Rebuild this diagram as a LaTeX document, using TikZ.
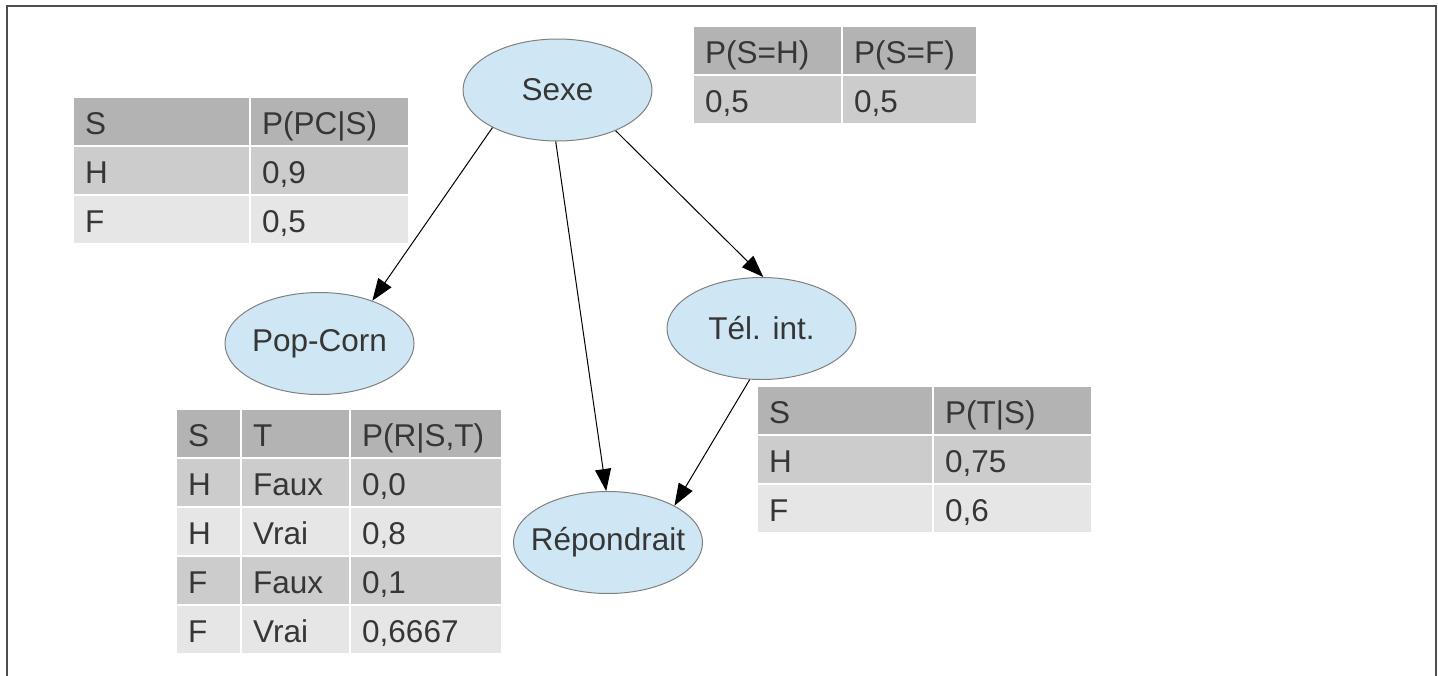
\documentclass[tikz,border=0pt]{standalone}
\usepackage{fontspec}
\setmainfont{Liberation Sans}
\usetikzlibrary{arrows.meta,shapes.geometric}
\definecolor{txt}{HTML}{363636}
\definecolor{hdr}{HTML}{B3B3B3}
\definecolor{rowd}{HTML}{CCCCCC}
\definecolor{rowl}{HTML}{E6E6E6}
\definecolor{ellfill}{HTML}{CFE7F5}
\definecolor{ellline}{HTML}{808080}
\definecolor{frame}{HTML}{4D4D4D}
\newcommand{\bigfont}{\fontsize{31.5}{36}\selectfont}
\tikzset{
  nodeell/.style={ellipse, draw=ellline, fill=ellfill, line width=1pt,
    minimum width=189pt, minimum height=102pt, inner sep=0pt},
  elltext/.style={text=txt, font=\bigfont, inner sep=0pt},
  cellbox/.style={draw=white, line width=1.5pt},
  celltext/.style={anchor=base west, text=txt, font=\bigfont, inner sep=0pt},
  arr/.style={-{Triangle[length=22pt,width=16pt]}, line width=1pt, black},
  framestyle/.style={draw=frame, line width=1.5pt}
}
\begin{document}
\begin{tikzpicture}[x=1pt,y=-1pt]
\useasboundingbox (0,0) rectangle (1438,675);
% frame
\draw[framestyle] (7,690) -- (7,6) -- (1436,6) -- (1436,690);

% ---- table P(S)
\path[cellbox,fill=hdr] (693,26) rectangle (842,75);
\path[cellbox,fill=hdr] (842,26) rectangle (977,75);
\path[cellbox,fill=rowd] (693,75) rectangle (842,124);
\path[cellbox,fill=rowd] (842,75) rectangle (977,124);
\node[celltext] (sxa) at (705,63) {P(S=H)};
\node[celltext] (sxb) at (854,63) {P(S=F)};
\node[celltext] (sxc) at (705,112) {0,5};
\node[celltext] (sxd) at (854,112) {0,5};

% ---- table P(PC|S)
\path[cellbox,fill=hdr] (73,97) rectangle (250,146);
\path[cellbox,fill=hdr] (250,97) rectangle (409,146);
\path[cellbox,fill=rowd] (73,146) rectangle (250,195);
\path[cellbox,fill=rowd] (250,146) rectangle (409,195);
\path[cellbox,fill=rowl] (73,195) rectangle (250,244);
\path[cellbox,fill=rowl] (250,195) rectangle (409,244);
\node[celltext] (pca) at (85,134) {S};
\node[celltext] (pcb) at (262,134) {P(PC|S)};
\node[celltext] (pcc) at (85,183) {H};
\node[celltext] (pcd) at (262,183) {0,9};
\node[celltext] (pce) at (85,232) {F};
\node[celltext] (pcf) at (262,232) {0,5};

% ---- table P(T|S)
\path[cellbox,fill=hdr] (757,386) rectangle (933,435);
\path[cellbox,fill=hdr] (933,386) rectangle (1092,435);
\path[cellbox,fill=rowd] (757,435) rectangle (933,484);
\path[cellbox,fill=rowd] (933,435) rectangle (1092,484);
\path[cellbox,fill=rowl] (757,484) rectangle (933,533);
\path[cellbox,fill=rowl] (933,484) rectangle (1092,533);
\node[celltext] (tsa) at (769,423) {S};
\node[celltext] (tsb) at (945,423) {P(T|S)};
\node[celltext] (tsc) at (769,472) {H};
\node[celltext] (tsd) at (945,472) {0,75};
\node[celltext] (tse) at (769,521) {F};
\node[celltext] (tsf) at (945,521) {0,6};

% ---- table P(R|S,T)
\foreach \ya/\yb/\c in {409/458/hdr,458/507/rowd,507/556/rowl,556/605/rowd,605/654/rowl}{
  \path[cellbox,fill=\c] (176,\ya) rectangle (241,\yb);
  \path[cellbox,fill=\c] (241,\ya) rectangle (350,\yb);
  \path[cellbox,fill=\c] (350,\ya) rectangle (502,\yb);
}
\node[celltext] (ra1) at (188,446) {S};
\node[celltext] (ra2) at (253,446) {T};
\node[celltext] (ra3) at (362,446) {P(R|S,T)};
\node[celltext] (rb1) at (188,495) {H};
\node[celltext] (rb2) at (253,495) {Faux};
\node[celltext] (rb3) at (362,495) {0,0};
\node[celltext] (rc1) at (188,544) {H};
\node[celltext] (rc2) at (253,544) {Vrai};
\node[celltext] (rc3) at (362,544) {0,8};
\node[celltext] (rd1) at (188,593) {F};
\node[celltext] (rd2) at (253,593) {Faux};
\node[celltext] (rd3) at (362,593) {0,1};
\node[celltext] (re1) at (188,642) {F};
\node[celltext] (re2) at (253,642) {Vrai};
\node[celltext] (re3) at (362,642) {0,6667};

% ---- nodes
\node[nodeell] (sexe) at (557.5,90) {};
\node[elltext] (sexet) at (sexe.center) {Sexe};
\node[nodeell] (pop) at (319.5,343.5) {};
\node[elltext] (popt) at (pop.center) {Pop-Corn};
\node[nodeell] (tel) at (761.5,328.5) {};
\node[elltext] (telt) at (tel.center) {Tél. int.};
\node[nodeell] (rep) at (608,542.5) {};
\node[elltext] (rept) at (rep.center) {Répondrait};

% ---- connectors
\draw[arr] (sexe.210.5) -- (pop.39);
\draw[arr] (sexe.268) -- (rep.92.4);
\draw[arr] (sexe.325.4) -- (tel.88.3);
\draw[arr] (tel.257.3) -- (rep.29.3);
\end{tikzpicture}
\end{document}
